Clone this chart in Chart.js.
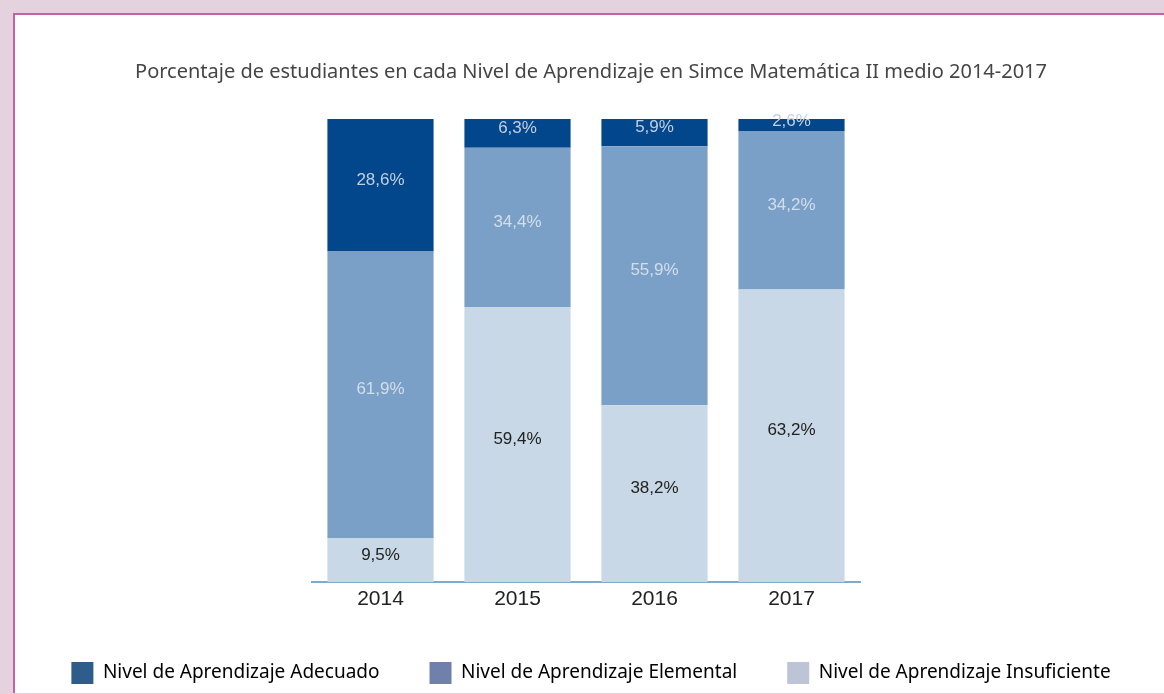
<!DOCTYPE html>
<html>
<head>
<meta charset="utf-8">
<script src="https://cdn.jsdelivr.net/npm/chart.js@4/dist/chart.umd.min.js"></script>
<style>
  html, body { margin: 0; padding: 0; width: 1164px; height: 694px; overflow: hidden; background: #e4d3de; }
  #frame { position: absolute; left: 13px; top: 13px; width: 1151px; height: 678px; background: #ffffff;
           border-top: 2px solid #c2649f; border-left: 2px solid #c2649f; }
  #wrap { position: absolute; left: 9px; top: 0; width: 1164px; height: 694px; }
</style>
</head>
<body>
<div id="frame"></div>
<div id="wrap"><canvas id="c" width="1164" height="694"></canvas></div>
<script>
const categories = ['2014', '2015', '2016', '2017'];
const adecuado = [28.6, 6.3, 5.9, 2.6];
const elemental = [61.9, 34.4, 55.9, 34.2];
const insuficiente = [9.5, 59.4, 38.2, 63.2];
const seriesNames = ['Nivel de Aprendizaje Adecuado', 'Nivel de Aprendizaje Elemental', 'Nivel de Aprendizaje Insuficiente'];
const titleText = 'Porcentaje de estudiantes en cada Nivel de Aprendizaje en Simce Matemática II medio 2014-2017';

// colours indexed as [adecuado, elemental, insuficiente]
const barColors = ['#02468b', '#7ba0c8', '#c8d8e7'];
const legendColors = ['#2e5d8c', '#6f80aa', '#bcc4d6'];
const labelColors = ['#c3cfe0', '#d3deeb', '#222222'];

const labelPlugin = {
  id: 'segLabels',
  afterDatasetsDraw(chart) {
    const ctx = chart.ctx;
    ctx.save();
    ctx.font = '17px "Liberation Sans", Arial, sans-serif';
    ctx.textAlign = 'center';
    ctx.textBaseline = 'middle';
    chart.data.datasets.forEach((ds, di) => {
      const meta = chart.getDatasetMeta(di);
      meta.data.forEach((el, i) => {
        const v = ds.data[i];
        const cy = Math.max((el.y + el.base) / 2 - 5, el.y + 2);
        ctx.fillStyle = labelColors[ds.seriesIndex];
        ctx.fillText(v.toFixed(1).replace('.', ',') + '%', el.x, cy);
      });
    });
    ctx.restore();
  }
};

new Chart(document.getElementById('c'), {
  type: 'bar',
  data: {
    labels: categories,
    datasets: [
      { label: seriesNames[2], data: insuficiente, backgroundColor: barColors[2], seriesIndex: 2 },
      { label: seriesNames[1], data: elemental, backgroundColor: barColors[1], seriesIndex: 1 },
      { label: seriesNames[0], data: adecuado, backgroundColor: barColors[0], seriesIndex: 0 }
    ]
  },
  options: {
    responsive: false,
    animation: false,
    layout: { padding: { top: 0, bottom: 0, left: 0, right: 0 } },
    datasets: { bar: { categoryPercentage: 1.0, barPercentage: 0.775 } },
    plugins: {
      title: {
        display: true,
        text: titleText,
        color: '#454545',
        font: { family: '"Noto Sans", "Open Sans", sans-serif', size: 20, weight: 'normal', lineHeight: 1.2 },
        padding: { top: 60, bottom: 35 }
      },
      legend: {
        display: true,
        position: 'bottom',
        labels: {
          boxWidth: 22,
          boxHeight: 22,
          padding: 50,
          color: '#222222',
          font: { family: '"Noto Sans", "Open Sans", sans-serif', size: 19 },
          generateLabels(chart) {
            return [0, 1, 2].map(k => ({
              text: seriesNames[k],
              fillStyle: legendColors[k],
              strokeStyle: legendColors[k],
              lineWidth: 0,
              hidden: false,
              datasetIndex: 2 - k
            }));
          }
        }
      },
      tooltip: { enabled: false }
    },
    scales: {
      x: {
        stacked: true,
        grid: { display: false, drawTicks: false },
        border: { display: true, color: '#7eaacd', width: 2 },
        ticks: { color: '#222222', padding: 5, font: { family: '"Liberation Sans", Arial, sans-serif', size: 21 } },
        afterFit(scale) { scale.height = 30; }
      },
      y: {
        stacked: true,
        min: 0,
        max: 100,
        display: true,
        grid: { display: false, drawTicks: false },
        border: { display: false },
        ticks: { display: false },
        afterFit(scale) { scale.width = 303; }
      },
      y2: {
        position: 'right',
        display: true,
        min: 0, max: 100,
        grid: { display: false, drawTicks: false },
        border: { display: false },
        ticks: { display: false },
        afterFit(scale) { scale.width = 313; }
      }
    }
  },
  plugins: [labelPlugin]
});
</script>
</body>
</html>
